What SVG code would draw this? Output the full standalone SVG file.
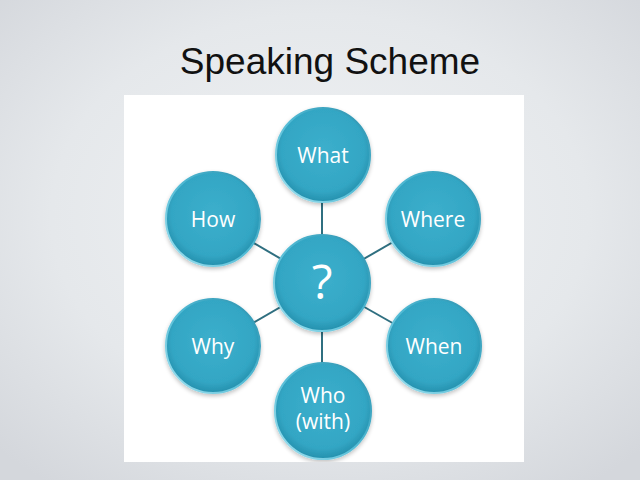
<svg xmlns="http://www.w3.org/2000/svg" width="640" height="480" viewBox="0 0 640 480">
<defs>
<radialGradient id="bg" cx="50%" cy="45%" r="70%">
<stop offset="0" stop-color="#f0f2f4"/>
<stop offset="0.6" stop-color="#e5e8eb"/>
<stop offset="1" stop-color="#d4d7dc"/>
</radialGradient>
<radialGradient id="ball" cx="50%" cy="45%" r="55%">
<stop offset="0" stop-color="#3cafcc"/>
<stop offset="0.8" stop-color="#33a6c4"/>
<stop offset="1" stop-color="#2590ad"/>
</radialGradient>
<linearGradient id="rim" x1="0" y1="1" x2="1" y2="0">
<stop offset="0" stop-color="#a5e3f1"/>
<stop offset="0.5" stop-color="#52bbd5"/>
<stop offset="1" stop-color="#2a90ad"/>
</linearGradient>
<filter id="sh" x="-20%" y="-20%" width="140%" height="140%">
<feGaussianBlur in="SourceAlpha" stdDeviation="2"/>
<feOffset dx="0" dy="2"/>
<feComponentTransfer><feFuncA type="linear" slope="0.25"/></feComponentTransfer>
<feMerge><feMergeNode/><feMergeNode in="SourceGraphic"/></feMerge>
</filter>
<clipPath id="clip"><rect x="124" y="95" width="400" height="367"/></clipPath>
</defs>
<style>
.node circle{fill:url(#ball);stroke:url(#rim);stroke-width:2;filter:url(#sh)}
.lbl{fill:#ffffff;font-family:"Open Sans","Liberation Sans",sans-serif;font-size:21px;text-anchor:middle}
.conn line{stroke:#2f6f80;stroke-width:2}
</style>
<rect width="640" height="480" fill="url(#bg)"/>
<text x="330" y="74" font-family="'Liberation Sans',Arial,sans-serif" font-size="37" fill="#111111" text-anchor="middle">Speaking Scheme</text>
<rect x="124" y="95" width="400" height="367" fill="#ffffff"/>
<g clip-path="url(#clip)">
<g id="connectors" class="conn">
<line x1="322" y1="283" x2="322" y2="156"/>
<line x1="322" y1="283" x2="433" y2="219"/>
<line x1="322" y1="283" x2="433" y2="346"/>
<line x1="322" y1="283" x2="322" y2="410"/>
<line x1="322" y1="283" x2="213" y2="346"/>
<line x1="322" y1="283" x2="213" y2="219"/>
</g>
<g id="center" class="node"><circle cx="322" cy="283" r="48"/><text class="lbl" x="322" y="299" style="font-size:48px">?</text></g>
<g id="what" class="node"><circle cx="323" cy="155" r="47"/><text class="lbl" x="323" y="163">What</text></g>
<g id="where" class="node"><circle cx="433" cy="219" r="47"/><text class="lbl" x="433" y="227">Where</text></g>
<g id="when" class="node"><circle cx="434" cy="346" r="47"/><text class="lbl" x="434" y="354">When</text></g>
<g id="who" class="node"><circle cx="323" cy="411" r="48"/><text class="lbl" x="323" y="403">Who</text><text class="lbl" x="323" y="429">(with)</text></g>
<g id="why" class="node"><circle cx="213" cy="346" r="47"/><text class="lbl" x="213" y="354">Why</text></g>
<g id="how" class="node"><circle cx="213" cy="219" r="47"/><text class="lbl" x="213" y="227">How</text></g>
</g>
</svg>
